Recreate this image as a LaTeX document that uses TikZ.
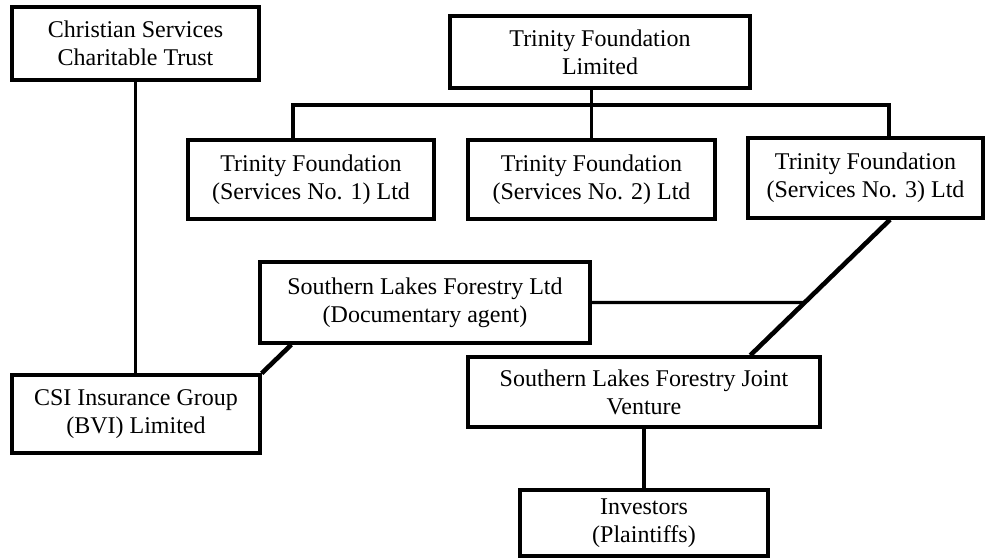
\documentclass[tikz,border=0pt]{standalone}
\usepackage{fontspec}
\setmainfont{Liberation Serif}
\usepackage{tikz}
\usetikzlibrary{positioning,calc}

\begin{document}
\begin{tikzpicture}[x=0.5pt, y=-0.5pt,
		entity/.style={draw, line width=1.7pt, align=center, inner sep=0, font=\fontsize{12}{14}\selectfont},
		link/.style={line width=1.6pt},
		tie/.style={line width=2.3pt}]
	\useasboundingbox (0,0) rectangle (987,560);
	% owners
	\node[entity, minimum width=123.5pt, minimum height=36.5pt] (cst) at (135.5,43.5) {Christian Services\\Charitable Trust};
	\node[entity, minimum width=150pt, minimum height=36pt] (tfl) at (600,52) {Trinity Foundation\\Limited};
	% service companies
	\node[entity, minimum width=123pt, minimum height=39.5pt] (tf1) at (311,179.5) {Trinity Foundation\\(Services No. 1) Ltd};
	\node[entity, minimum width=123.5pt, minimum height=39.5pt] (tf2) at (591.5,179.5) {Trinity Foundation\\(Services No. 2) Ltd};
	\node[entity, minimum width=117.5pt, minimum height=40pt] (tf3) at (865.5,178) {Trinity Foundation\\(Services No. 3) Ltd};
	% lower level
	\node[entity, minimum width=165pt, minimum height=40.5pt] (slf) at (425,302.5) {Southern Lakes Forestry Ltd\\(Documentary agent)};
	\node[entity, minimum width=124pt, minimum height=39pt] (csi) at (136,414) {CSI Insurance Group\\(BVI) Limited};
	\node[entity, minimum width=176pt, minimum height=35pt] (jv) at (644,392) {Southern Lakes Forestry Joint\\Venture};
	\node[entity, minimum width=124pt, minimum height=33pt] (inv) at (644,523) {Investors\\(Plaintiffs)};

	\coordinate (bus) at (591.5,105);
	\coordinate (d1) at ($(tf3.south)+(24.5,0)$);
	\coordinate (d2) at ($(jv.north west)+(284,0)$);
	\coordinate (far) at ($(slf.east)+(400,0)$);
	\coordinate (meet) at (intersection of d1--d2 and slf.east--far);

	\draw[link] (cst.south) -- (cst.south |- csi.north);
	\draw[link] (tfl.south -| tf2.north) -- (tf2.north);
	\draw[link] ($(tf1.north)+(-18,0)$) |- (bus) -| ($(tf3.north)+(23.5,0)$);
	\draw[tie] ($(slf.south west)+(33,0)$) -- (csi.north east);
	\draw[tie] (d1) -- (d2);
	\draw[link] (slf.east) -- (meet);
	\draw[link] (jv.south) -- (inv.north);
\end{tikzpicture}
\end{document}
